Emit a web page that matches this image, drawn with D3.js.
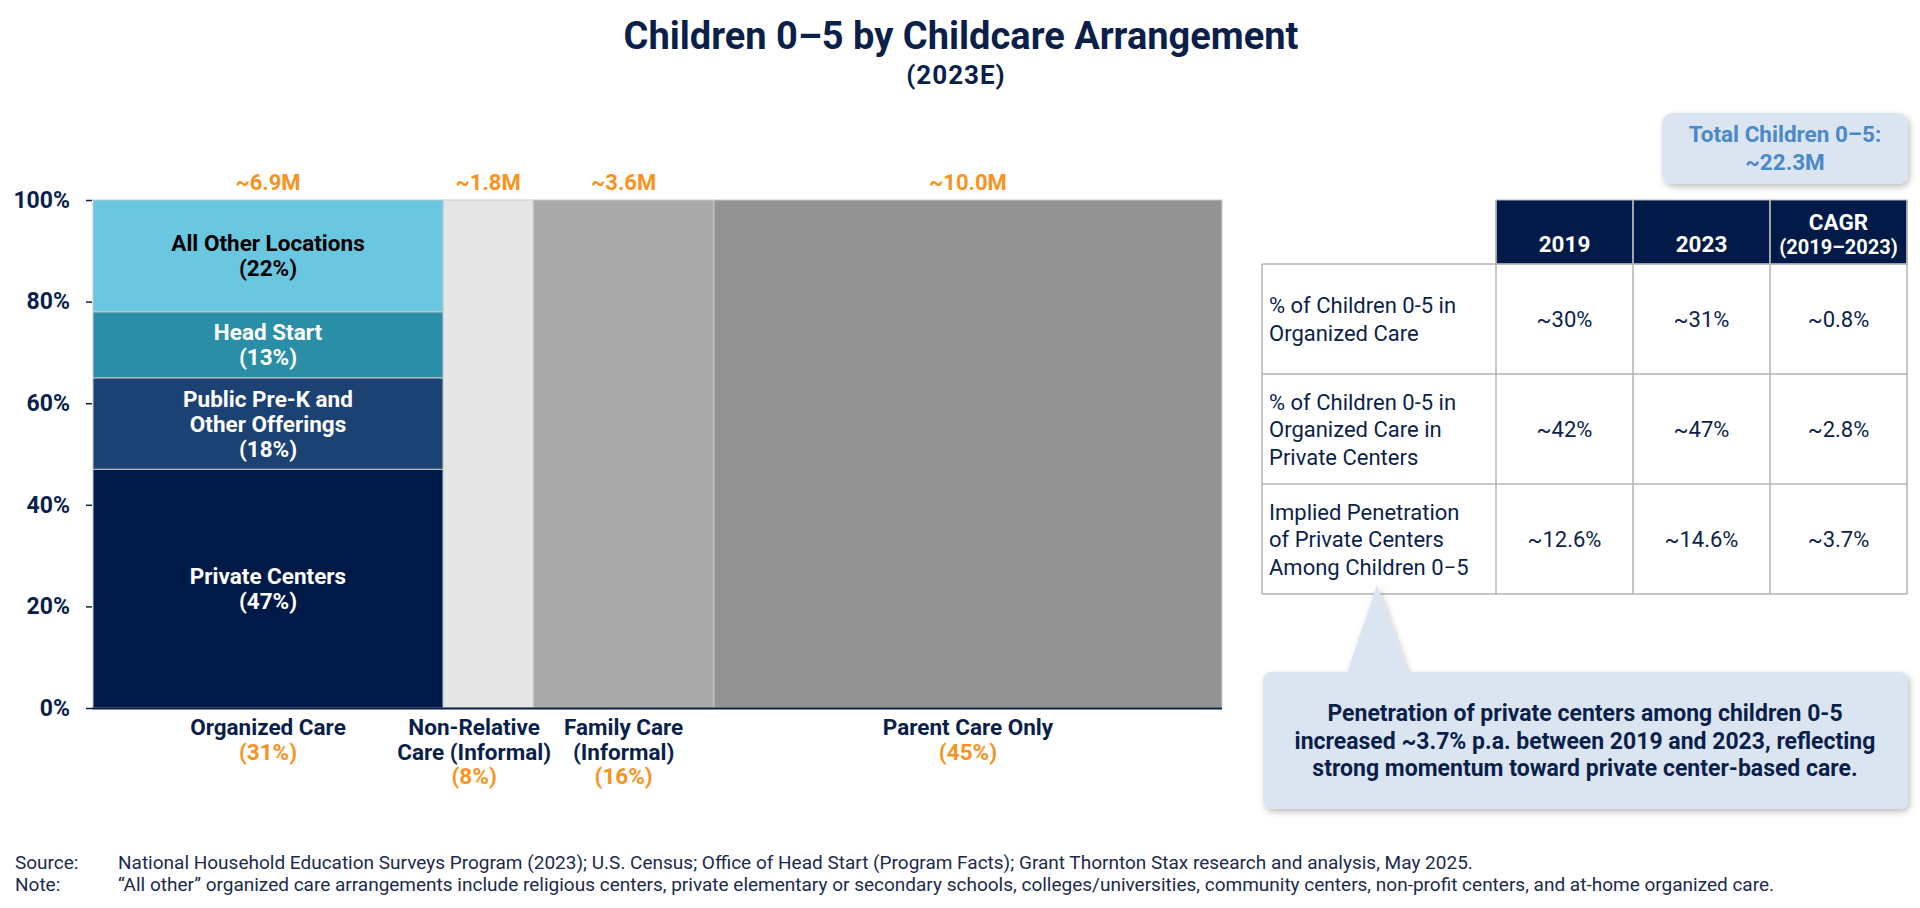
<!DOCTYPE html>
<html>
<head>
<meta charset="utf-8">
<script src="https://cdn.jsdelivr.net/npm/d3@7"></script>
<style>
  body { margin: 0; background: #fff; }
  svg { display: block; font-family: Roboto, 'Noto Sans', sans-serif; }
</style>
</head>
<body>
<svg id="chart" width="1920" height="908"></svg>
<script>
// columns of the marimekko (share of all children 0-5)
const categories = ['Organized Care', 'Non-Relative Care (Informal)', 'Family Care (Informal)', 'Parent Care Only'];
const categoryLines = [['Organized Care'], ['Non-Relative', 'Care (Informal)'], ['Family Care', '(Informal)'], ['Parent Care Only']];
const categoryShares = [31, 8, 16, 45];
const categoryTotals = ['~6.9M', '~1.8M', '~3.6M', '~10.0M'];

// split of organized care, bottom to top
const organizedSegments = ['Private Centers', 'Public Pre-K and Other Offerings', 'Head Start', 'All Other Locations'];
const organizedLines = [['Private Centers'], ['Public Pre-K and', 'Other Offerings'], ['Head Start'], ['All Other Locations']];
const organizedShares = [47, 18, 13, 22];

const yTicks = [0, 0.2, 0.4, 0.6, 0.8, 1];

// side table
const tableHeaders = [['2019'], ['2023'], ['CAGR', '(2019\u20132023)']];
const tableRowLabels = [
    ['% of Children 0-5 in', 'Organized Care'],
    ['% of Children 0-5 in', 'Organized Care in', 'Private Centers'],
    ['Implied Penetration', 'of Private Centers', 'Among Children 0\u22125']
];
const values2019 = ['~30%', '~42%', '~12.6%'];
const values2023 = ['~31%', '~47%', '~14.6%'];
const valuesCagr = ['~0.8%', '~2.8%', '~3.7%'];

const totalLines = ['Total Children 0\u20135:', '~22.3M'];
const calloutLines = [
    'Penetration of private centers among children 0-5',
    'increased ~3.7% p.a. between 2019 and 2023, reflecting',
    'strong momentum toward private center-based care.'
];
const footnotes = [
    ['Source:', 'National Household Education Surveys Program (2023); U.S. Census; Office of Head Start (Program Facts); Grant Thornton Stax research and analysis, May 2025.'],
    ['Note:', '\u201cAll other\u201d organized care arrangements include religious centers, private elementary or secondary schools, colleges/universities, community centers, non-profit centers, and at-home organized care.']
];

const NAVY = '#0b1f4b';
const ORANGE = '#f7931e';
const CALLOUT = '#dbe5f2';
const categoryColor = d3.scaleOrdinal().domain(categories).range(['none', '#e6e6e6', '#aaaaaa', '#939393']);
const segmentColor = d3.scaleOrdinal().domain(organizedSegments).range(['#001a48', '#1b4273', '#2a8fa6', '#6bc6e0']);
const segmentText = d3.scaleOrdinal().domain(organizedSegments).range(['#fff', '#fff', '#fff', '#000']);

const svg = d3.select('#chart');

const MARGIN = {top: 200, bottom: 708, left: 93, right: 1222};
const x = d3.scaleLinear().domain([0, 100]).range([MARGIN.left, MARGIN.right]);
const y = d3.scaleLinear().domain([0, 1]).range([MARGIN.bottom, MARGIN.top]);

// title
svg.append('text').attr('x', 961).attr('y', 49).attr('text-anchor', 'middle')
    .attr('font-size', 38).attr('font-weight', 700).attr('fill', NAVY)
    .text('Children 0\u20135 by Childcare Arrangement');
svg.append('text').attr('x', 956).attr('y', 84).attr('text-anchor', 'middle')
    .attr('font-size', 26).attr('font-weight', 700).attr('fill', NAVY)
    .attr('letter-spacing', 1)
    .text('(2023E)');

// columns
const starts = [0, ...d3.cumsum(categoryShares)].slice(0, categories.length);
const cols = categories.map((c, i) => ({name: c, lines: categoryLines[i], share: categoryShares[i], total: categoryTotals[i], x0: starts[i]}));

svg.append('g').selectAll('rect')
    .data(cols.slice(1))
    .join('rect')
    .attr('x', d => x(d.x0))
    .attr('width', d => x(d.x0 + d.share) - x(d.x0))
    .attr('y', y(1))
    .attr('height', y(0) - y(1))
    .attr('fill', d => categoryColor(d.name))
    .attr('stroke', '#c9c9c9')
    .attr('stroke-width', 1);

// organized care stack
const segStarts = [0, ...d3.cumsum(organizedShares)];
const segs = organizedSegments.map((s, i) => ({name: s, lines: organizedLines[i], share: organizedShares[i], y0: segStarts[i] / 100, y1: segStarts[i + 1] / 100}));
const orgCol = cols[0];

svg.append('g').selectAll('rect')
    .data(segs)
    .join('rect')
    .attr('x', x(orgCol.x0))
    .attr('width', x(orgCol.x0 + orgCol.share) - x(orgCol.x0))
    .attr('y', d => y(d.y1))
    .attr('height', d => y(d.y0) - y(d.y1))
    .attr('fill', d => segmentColor(d.name))
    .attr('stroke', '#c9c9c9')
    .attr('stroke-width', 1);

const segLabels = svg.append('g').selectAll('text')
    .data(segs)
    .join('text')
    .attr('text-anchor', 'middle')
    .attr('font-size', 22.5).attr('font-weight', 700)
    .attr('fill', d => segmentText(d.name));
segLabels.each(function(d) {
    const lines = [...d.lines, `(${d.share}%)`];
    const cx = x(orgCol.x0 + orgCol.share / 2);
    const cy = (y(d.y0) + y(d.y1)) / 2;
    const lh = 25;
    d3.select(this).selectAll('tspan').data(lines).join('tspan')
        .attr('x', cx)
        .attr('y', (l, j) => cy + (j - (lines.length - 1) / 2) * lh + 8)
        .text(l => l);
});

// totals above columns
svg.append('g').selectAll('text')
    .data(cols)
    .join('text')
    .attr('x', d => x(d.x0 + d.share / 2))
    .attr('y', 190)
    .attr('text-anchor', 'middle')
    .attr('font-size', 22).attr('font-weight', 700).attr('fill', ORANGE)
    .text(d => d.total);

// y axis
const yAxis = d3.axisLeft(y).tickValues(yTicks).tickFormat(d3.format('.0%')).tickSize(6).tickPadding(16);
const yg = svg.append('g').attr('transform', `translate(${MARGIN.left - 1},0)`).call(yAxis);
yg.select('.domain').remove();
yg.selectAll('.tick line').attr('stroke', NAVY).attr('stroke-width', 1.5);
yg.selectAll('.tick text').attr('font-size', 23).attr('font-weight', 700).attr('fill', NAVY)
    .attr('font-family', 'Roboto, sans-serif');

// baseline
svg.append('line')
    .attr('x1', MARGIN.left - 1).attr('x2', MARGIN.right)
    .attr('y1', y(0) + 0.5).attr('y2', y(0) + 0.5)
    .attr('stroke', NAVY).attr('stroke-width', 2);

// category labels below
const nudge = [0, -14, 0, 0];
const catLabels = svg.append('g').selectAll('text')
    .data(cols)
    .join('text')
    .attr('text-anchor', 'middle')
    .attr('font-size', 22.5).attr('font-weight', 700);
catLabels.each(function(d, i) {
    const lines = [...d.lines, `(${d.share}%)`];
    d3.select(this).selectAll('tspan').data(lines).join('tspan')
        .attr('x', x(d.x0 + d.share / 2) + nudge[i])
        .attr('y', (l, j) => 735 + j * 24.5)
        .attr('fill', (l, j) => j === lines.length - 1 ? ORANGE : NAVY)
        .text(l => l);
});

// shadow for callouts
const defs = svg.append('defs');
const f = defs.append('filter').attr('id', 'shadow').attr('x', '-10%').attr('y', '-20%').attr('width', '130%').attr('height', '150%');
f.append('feDropShadow').attr('dx', 2).attr('dy', 3).attr('stdDeviation', 3).attr('flood-color', '#000').attr('flood-opacity', 0.25);

// total children box
svg.append('rect').attr('x', 1662).attr('y', 113).attr('width', 246).attr('height', 71)
    .attr('rx', 10).attr('fill', CALLOUT).attr('filter', 'url(#shadow)');
svg.append('g').selectAll('text').data(totalLines).join('text')
    .attr('x', 1785).attr('y', (d, i) => 142 + i * 28)
    .attr('text-anchor', 'middle')
    .attr('font-size', 22.5).attr('font-weight', 700).attr('fill', '#4a88c8')
    .text(d => d);

// table
const colX = [1262, 1496, 1633, 1770, 1907];
const rowY = [200, 264, 374, 484, 594];
const table = svg.append('g');
const GRID = '#b3b3b3';

table.selectAll('rect.head').data(tableHeaders).join('rect')
    .attr('class', 'head')
    .attr('x', (d, i) => colX[i + 1]).attr('y', rowY[0])
    .attr('width', (d, i) => colX[i + 2] - colX[i + 1]).attr('height', rowY[1] - rowY[0])
    .attr('fill', '#011a47').attr('stroke', GRID).attr('stroke-width', 1);

table.selectAll('text.head').data(tableHeaders).join('text')
    .attr('class', 'head')
    .attr('text-anchor', 'middle').attr('fill', '#fff').attr('font-weight', 700)
    .each(function(d, i) {
        const cx = (colX[i + 1] + colX[i + 2]) / 2;
        d3.select(this).selectAll('tspan').data(d).join('tspan')
            .attr('x', cx)
            .attr('y', (l, j) => d.length === 1 ? 252 : 230 + j * 24)
            .attr('font-size', (l, j) => j === 0 ? 22.5 : 20)
            .text(l => l);
    });

// grid lines
table.selectAll('line.h').data(rowY.slice(1)).join('line')
    .attr('x1', colX[0]).attr('x2', colX[4])
    .attr('y1', d => d).attr('y2', d => d)
    .attr('stroke', GRID).attr('stroke-width', 1.5);
table.selectAll('line.v').data(colX).join('line')
    .attr('x1', d => d).attr('x2', d => d)
    .attr('y1', (d, i) => i === 0 ? rowY[1] : rowY[0]).attr('y2', rowY[4])
    .attr('stroke', GRID).attr('stroke-width', 1.5);

const rows = tableRowLabels.map((l, i) => ({label: l, vals: [values2019[i], values2023[i], valuesCagr[i]], cy: (rowY[i + 1] + rowY[i + 2]) / 2}));

table.selectAll('text.rowlabel').data(rows).join('text')
    .attr('class', 'rowlabel')
    .attr('font-size', 22).attr('fill', NAVY)
    .each(function(d) {
        d3.select(this).selectAll('tspan').data(d.label).join('tspan')
            .attr('x', 1269)
            .attr('y', (l, j) => d.cy + (j - (d.label.length - 1) / 2) * 27.5 + 8)
            .text(l => l);
    });

rows.forEach(r => {
    table.append('g').selectAll('text').data(r.vals).join('text')
        .attr('x', (v, j) => (colX[j + 1] + colX[j + 2]) / 2)
        .attr('y', r.cy + 8)
        .attr('text-anchor', 'middle')
        .attr('font-size', 22).attr('fill', NAVY)
        .text(v => v);
});

// bottom callout with pointer
const callout = svg.append('g').attr('filter', 'url(#shadow)');
callout.append('rect').attr('x', 1263).attr('y', 672).attr('width', 645).attr('height', 137)
    .attr('rx', 8).attr('fill', CALLOUT);
callout.append('path').attr('d', 'M1377,585 L1347,673 L1408,673 Z').attr('fill', CALLOUT);
svg.append('g').selectAll('text').data(calloutLines).join('text')
    .attr('x', 1585).attr('y', (d, i) => 721 + i * 27.5)
    .attr('text-anchor', 'middle')
    .attr('font-size', 23).attr('font-weight', 700).attr('fill', NAVY)
    .text(d => d);

// source / note
const foot = svg.append('g').selectAll('g').data(footnotes).join('g')
    .attr('transform', (d, i) => `translate(0, ${869 + i * 22})`);
foot.append('text').attr('x', 15).attr('font-size', 19).attr('fill', '#1b2a4e').text(d => d[0]);
foot.append('text').attr('x', 118).attr('font-size', 19).attr('fill', '#1b2a4e').text(d => d[1]);
</script>
</body>
</html>
